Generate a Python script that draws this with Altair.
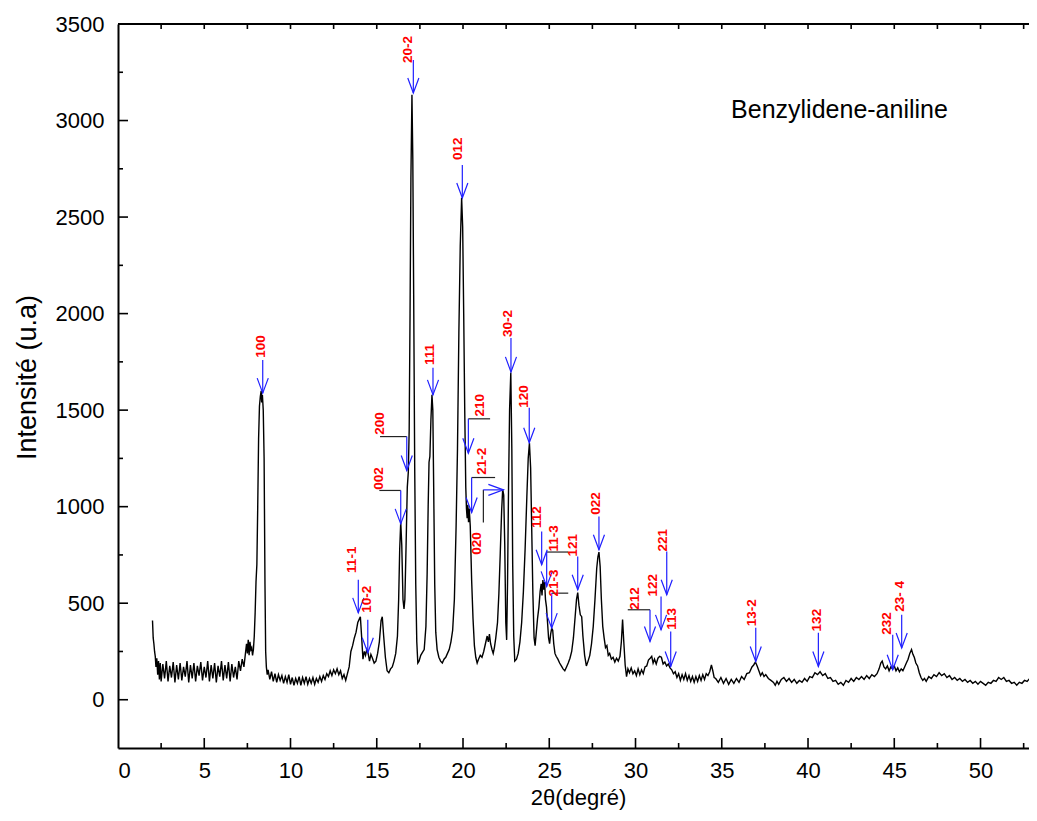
import altair as alt
import pandas as pd

# ---------------- diffraction pattern ----------------
two_theta = [
    2.00, 2.04, 2.08, 2.12, 2.16, 2.20, 2.25, 2.30, 2.35, 2.40, 2.45, 2.50, 2.6, 2.7, 2.8, 2.9,
    3.0, 3.1, 3.2, 3.3, 3.4, 3.5, 3.6, 3.7, 3.8, 3.9, 4.0, 4.1, 4.2, 4.3, 4.4, 4.5, 4.6, 4.7,
    4.8, 4.9, 5.0, 5.1, 5.2, 5.3, 5.4, 5.5, 5.6, 5.7, 5.8, 5.9, 6.0, 6.1, 6.2, 6.3, 6.4, 6.5,
    6.6, 6.7, 6.8, 6.9, 7.0, 7.1, 7.2, 7.3, 7.4, 7.45, 7.5, 7.55, 7.6, 7.65, 7.7, 7.75, 7.8,
    7.85, 7.9,
    7.95, 8.00, 8.05, 8.10, 8.15, 8.20, 8.25, 8.30, 8.33, 8.37, 8.42, 8.47, 8.52, 8.56, 8.60, 8.65,
    8.7, 8.8, 8.9, 9.0, 9.1, 9.2, 9.3, 9.4, 9.5, 9.6, 9.7, 9.8, 9.9, 10.0, 10.1, 10.2, 10.3,
    10.4, 10.5, 10.6, 10.7, 10.8, 10.9, 11.0, 11.1, 11.2, 11.3, 11.4, 11.5, 11.6, 11.7, 11.8,
    11.9, 12.0, 12.1, 12.2, 12.3, 12.4, 12.5, 12.6, 12.7, 12.8, 12.9, 13.0, 13.1, 13.2, 13.3,
    13.4, 13.5, 13.6, 13.7, 13.8, 13.9, 14.0, 14.05, 14.12, 14.2, 14.28, 14.35, 14.42, 14.5,
    14.58, 14.66, 14.75, 14.85, 14.95, 15.05, 15.15, 15.25, 15.32, 15.4, 15.5, 15.6, 15.7,
    15.8, 15.9, 16.0, 16.1, 16.2, 16.27, 16.33, 16.39, 16.45, 16.52, 16.58, 16.63, 16.7, 16.77,
    16.83, 16.88, 16.93, 16.98, 17.04, 17.09, 17.14, 17.2, 17.26, 17.32, 17.38, 17.45,
    17.55, 17.65, 17.75, 17.85, 17.92, 17.98, 18.03, 18.08, 18.14, 18.2, 18.25, 18.3, 18.36,
    18.42, 18.5, 18.6, 18.7, 18.8, 18.9, 19.0, 19.1, 19.2, 19.3, 19.4, 19.5, 19.6, 19.68,
    19.76, 19.84, 19.92, 19.98, 20.04, 20.1, 20.16, 20.2, 20.24, 20.28, 20.32, 20.36, 20.42,
    20.5, 20.58, 20.66, 20.74, 20.82, 20.9, 21.0, 21.1, 21.2, 21.3, 21.4, 21.47, 21.53, 21.6,
    21.68, 21.75, 21.82,
    21.9, 22.0, 22.08, 22.16, 22.24, 22.3, 22.36, 22.42, 22.48, 22.53, 22.58, 22.64, 22.7,
    22.77, 22.83, 22.88, 22.94, 23.0, 23.1, 23.2, 23.3, 23.4, 23.5, 23.6, 23.7, 23.78, 23.85,
    23.92, 23.98, 24.05, 24.12, 24.18, 24.25, 24.32, 24.4, 24.47, 24.53, 24.58, 24.63, 24.68,
    24.73, 24.78, 24.84, 24.9, 24.96, 25.02, 25.08, 25.14, 25.2, 25.26, 25.33,
    25.4, 25.5, 25.6, 25.7, 25.8, 25.9, 26.0, 26.1, 26.2, 26.3, 26.4, 26.5, 26.58, 26.65,
    26.72, 26.8, 26.88, 26.95, 27.05, 27.15, 27.25, 27.35, 27.45, 27.55, 27.65, 27.75, 27.82,
    27.88, 27.95, 28.02, 28.1, 28.18, 28.26, 28.34, 28.42, 28.5, 28.6, 28.7, 28.8, 28.9, 29.0,
    29.1, 29.18, 29.25, 29.32, 29.4, 29.48, 29.56, 29.65, 29.75, 29.85, 29.95,
    30.05, 30.15, 30.25, 30.35, 30.45, 30.55, 30.65, 30.75, 30.85, 30.94, 31.02, 31.1, 31.2,
    31.3, 31.4, 31.5, 31.6, 31.7, 31.8, 31.9, 32.0, 32.1, 32.2, 32.3, 32.4, 32.5, 32.6, 32.7,
    32.8, 32.9, 33.0, 33.1, 33.2, 33.3, 33.4, 33.5, 33.6, 33.7, 33.8, 33.9, 34.0, 34.1, 34.2,
    34.3, 34.4, 34.48, 34.56, 34.65,
    34.8, 34.95, 35.1, 35.25, 35.4, 35.55, 35.7, 35.85, 36.0, 36.15, 36.3, 36.45, 36.6, 36.75,
    36.85, 36.95, 37.05, 37.15, 37.25, 37.35, 37.45, 37.55, 37.7, 37.85, 38.0, 38.1, 38.2,
    38.3, 38.45, 38.6, 38.75, 38.9, 39.05, 39.2, 39.35, 39.5, 39.65, 39.8, 39.95, 40.1, 40.25,
    40.4, 40.55, 40.7, 40.85, 41.0, 41.15, 41.3, 41.45, 41.6, 41.75, 41.9, 42.05, 42.2, 42.35,
    42.5, 42.65, 42.8, 42.95, 43.1, 43.25, 43.4, 43.55, 43.7, 43.85, 44.0, 44.12, 44.22, 44.3,
    44.4, 44.5, 44.6, 44.7, 44.8, 44.9, 45.0, 45.1, 45.2, 45.3, 45.4, 45.5, 45.6, 45.7, 45.8,
    45.9, 46.0, 46.08, 46.16, 46.25, 46.35, 46.45, 46.55, 46.65, 46.75, 46.85, 47.0, 47.15,
    47.3, 47.45, 47.6, 47.75, 47.9, 48.05, 48.2, 48.35, 48.5, 48.65, 48.8, 48.95, 49.1, 49.25,
    49.4, 49.55, 49.7, 49.85, 50.0, 50.15, 50.3, 50.45, 50.6, 50.75, 50.9, 51.05, 51.2, 51.35,
    51.5, 51.65, 51.8, 51.95, 52.1, 52.25, 52.4, 52.55, 52.7, 52.85, 53.0, 53.15, 53.26,
]
intensity = [
    410, 320, 290, 250, 225, 170, 215, 130, 200, 105, 190, 95, 185, 110, 200, 95,
    175, 115, 195, 90, 180, 105, 190, 100, 170, 120, 200, 90, 180, 110, 190, 95, 175, 125,
    195, 100, 170, 115, 200, 95, 180, 110, 190, 90, 175, 120, 200, 100, 180, 110, 195, 95,
    185, 115, 170, 105, 200, 150, 210, 170, 250, 290, 240, 310, 230, 300, 260, 270, 230,
    260, 330,
    450, 610, 700, 1000, 1350, 1520, 1570, 1600, 1540, 1580, 1500, 1250, 600, 250, 170, 130,
    155, 105, 145, 95, 135, 90, 130, 100, 125, 85, 120, 90, 130, 80, 115, 75, 110,
    85, 120, 75, 115, 85, 120, 80, 110, 85, 115, 80, 110, 90, 120, 95,
    125, 105, 135, 120, 150, 125, 155, 135, 160, 130, 150, 110, 130, 100, 135,
    170, 250, 280, 320, 350, 400, 420, 430, 330, 210, 250, 230, 260, 240,
    200, 235, 215, 190, 200, 240, 300, 410, 430, 330, 220, 150, 140,
    160, 170, 200, 240, 330, 520, 780, 920, 800, 520, 470, 520, 800, 1100,
    1180, 1400, 2000, 2700, 3134, 2800, 2100, 1200, 600, 300, 190, 200,
    230, 245, 260, 380, 650, 1000, 1230, 1260, 1450, 1580, 1500, 1100, 600,
    350, 260, 220, 200, 190, 210, 220, 240, 260, 300, 360, 520, 900, 1300,
    1900, 2350, 2600, 2450, 2000, 1500, 1100, 990, 940, 1010, 920, 990, 900,
    620, 420, 280, 220, 190, 210, 230, 220, 250, 290, 330, 300, 340, 290,
    260, 240, 270,
    320, 400, 550, 760, 980, 1090, 1060, 800, 400, 310, 600, 1100, 1500,
    1695, 1300, 700, 330, 200, 210, 240, 300, 400, 560, 780, 1050, 1250, 1330,
    1200, 900, 550, 320, 280, 350, 420, 480, 560, 600, 540, 620, 570,
    610, 520, 480, 400, 320, 290, 340, 370, 360, 290, 240,
    225, 210, 190, 175, 160, 150, 170, 190, 215, 250, 320, 430, 520, 555,
    490, 440, 430, 330, 230, 175, 200, 230, 290, 380, 520, 680, 740,
    765, 690, 520, 380, 320, 270, 280, 230, 240, 210, 220, 195, 215, 200,
    225, 300, 415, 300, 180, 120, 160, 140, 165, 135, 150,
    125, 160, 130, 155, 135, 170, 175, 205, 215, 225, 190, 210, 185,
    215, 225, 220, 185, 195, 175, 185, 165, 155, 135, 145, 115, 135, 100, 130,
    105, 135, 100, 125, 95, 120, 90, 120, 95, 125, 100, 130, 105, 135, 125,
    145, 180, 150, 115, 110,
    90, 115, 85, 110, 80, 105, 85, 110, 90, 120, 105, 135, 140, 170,
    180, 195, 175, 150, 125, 140, 120, 130, 110, 100, 90, 75, 95,
    80, 105, 115, 95, 110, 90, 105, 85, 100, 90, 110, 95, 120, 115,
    140, 130, 145, 125, 135, 110, 115, 95, 100, 80, 90, 75, 100, 90,
    110, 95, 115, 105, 120, 105, 125, 110, 130, 120, 135, 160, 190, 200,
    170, 160, 175, 150, 170, 160, 175, 150, 165, 145, 160, 150, 170, 190, 210,
    240, 260, 235, 220, 190, 175, 140, 115, 100, 110, 95, 120, 110,
    130, 120, 140, 125, 135, 115, 125, 105, 115, 100, 110, 95, 105, 90,
    100, 85, 95, 80, 95, 85, 75, 90, 85, 100, 95, 115, 105, 115,
    95, 100, 85, 90, 75, 90, 85, 100, 95, 110, 85, 95, 78,
]

# ---------------- axis ticks ----------------
x_major = [0, 5, 10, 15, 20, 25, 30, 35, 40, 45, 50]
x_minor = [2.5, 7.5, 12.5, 17.5, 22.5, 27.5, 32.5, 37.5, 42.5, 47.5, 52.5]
y_major = [0, 500, 1000, 1500, 2000, 2500, 3000, 3500]
y_minor = [250, 750, 1250, 1750, 2250, 2750, 3250]

# ---------------- Miller-index annotations ----------------
ann_text = ["100", "20-2", "012", "111", "30-2", "120", "200", "002", "210", "21-2", "020",
            "11-1", "10-2", "112", "11-3", "21-3", "121", "022", "212", "122", "221", "113",
            "13-2", "132", "232", "23- 4"]
label_x = [8.29, 16.83, 19.71, 18.09, 22.63, 23.55, 15.19, 15.15, 20.99, 21.08, 20.79,
           13.54, 14.42, 24.27, 25.28, 25.28, 26.39, 27.71, 29.97, 31.03, 31.61, 32.10,
           36.73, 40.50, 44.56, 45.33]
label_y = [1771, 3298, 2796, 1734, 1879, 1512, 1372, 1087, 1467, 1165, 751,
           657, 450, 890, 768, 535, 742, 958, 466, 535, 768, 362,
           380, 354, 337, 456]

# downward arrows: position, start, tip
arrow_x = [8.39, 17.12, 19.96, 18.26, 22.78, 23.84, 16.74, 16.39, 20.31, 20.50,
           13.93, 14.48, 24.56, 24.85, 25.14, 26.65, 27.88, 30.84, 31.48, 31.81, 32.04,
           36.97, 40.60, 44.91, 45.43]
arrow_top = [1760, 3314, 2770, 1719, 1874, 1512, 1363, 1084, 1455, 1151,
             621, 414, 871, 765, 552, 742, 949, 466, 535, 768, 354,
             373, 347, 337, 440]
arrow_tip = [1588, 3143, 2599, 1579, 1698, 1331, 1187, 911, 1277, 970,
             450, 243, 699, 587, 371, 570, 777, 302, 362, 544, 172,
             198, 172, 155, 268]

# black leader brackets
bracket_x1 = [15.19, 15.15, 20.31, 20.50, 24.85, 25.14, 29.55]
bracket_x2 = [16.74, 16.39, 21.57, 21.86, 26.10, 26.10, 30.84]
bracket_y = [1363, 1084, 1455, 1151, 765, 552, 466]

# the "020" leader: vertical black part, then blue arrow to the right
lead020_x = [21.18]
lead020_y1 = [918]
lead020_y2 = [1087]
lead020_tip_x = [22.34]

title_text = ["Benzylidene-aniline"]
title_x = [35.54]
title_y = [3055]

# ---------------- build ----------------
W, H = 911, 724
BLUE = "#1f1fff"
RED = "#ff0000"
FONT = "Liberation Sans"

xs = alt.Scale(domain=[0, 52.81], nice=False, zero=False)
ys = alt.Scale(domain=[-250, 3500], nice=False, zero=False)

x_axis = alt.Axis(values=x_major, title="2θ(degré)", tickSize=0, labelPadding=12, format="d",
                  labelFontSize=22, titleFontSize=22, titleX=460, titleY=49,
                  titleBaseline="middle", titleAlign="center", domainWidth=2)
y_axis = alt.Axis(values=y_major, title="Intensité (u.a)", tickSize=0, labelPadding=14,
                  format="d", labelFontSize=22, titleFontSize=27, titleX=-91, titleY=353,
                  titleAngle=270, titleBaseline="middle", titleAlign="center",
                  domainWidth=2)


def xq(field):
    return alt.X(field, scale=xs, axis=x_axis, title="2θ(degré)")


def yq(field):
    return alt.Y(field, scale=ys, axis=y_axis, title="Intensité (u.a)")


curve_df = pd.DataFrame({"t": two_theta, "i": intensity})
curve = alt.Chart(curve_df).mark_line(color="black", strokeWidth=1.4, clip=True).encode(
    x=xq("t:Q"), y=yq("i:Q"))

xmaj = pd.DataFrame({"v": x_major})
xmin = pd.DataFrame({"v": x_minor})
ymaj = pd.DataFrame({"v": y_major})
ymin = pd.DataFrame({"v": y_minor})

tick_style = dict(color="black", strokeWidth=1.6, clip=True)
ticks = [
    alt.Chart(xmaj).mark_rule(**tick_style).encode(x=xq("v:Q"), y=alt.value(H), y2=alt.value(H - 10)),
    alt.Chart(xmin).mark_rule(**tick_style).encode(x=xq("v:Q"), y=alt.value(H), y2=alt.value(H - 5)),
    alt.Chart(xmaj).mark_rule(**tick_style).encode(x=xq("v:Q"), y=alt.value(0), y2=alt.value(5)),
    alt.Chart(xmin).mark_rule(**tick_style).encode(x=xq("v:Q"), y=alt.value(0), y2=alt.value(5)),
    alt.Chart(ymaj).mark_rule(**tick_style).encode(y=yq("v:Q"), x=alt.value(0), x2=alt.value(10)),
    alt.Chart(ymin).mark_rule(**tick_style).encode(y=yq("v:Q"), x=alt.value(0), x2=alt.value(5)),
]
top_border = alt.Chart(pd.DataFrame({"a": [0]})).mark_rule(color="black", strokeWidth=2).encode(
    x=alt.value(0), x2=alt.value(W), y=alt.value(0))

labels_df = pd.DataFrame({"text": ann_text, "x": label_x, "y": label_y})
labels = alt.Chart(labels_df).mark_text(
    angle=270, align="left", baseline="middle", color=RED, font=FONT,
    fontWeight="bold", fontSize=13.5).encode(x=xq("x:Q"), y=yq("y:Q"), text="text:N")

arrows_df = pd.DataFrame({"x": arrow_x, "y": arrow_top, "y2": arrow_tip})
arrow_lines = alt.Chart(arrows_df).mark_rule(color=BLUE, strokeWidth=1.2).encode(
    x=xq("x:Q"), y=yq("y:Q"), y2="y2:Q")
arrow_heads = alt.Chart(arrows_df).mark_point(
    shape="M-0.37,-1L0,0L0.37,-1", size=900, filled=False, color=BLUE, strokeWidth=1.2,
    opacity=1).encode(x=xq("x:Q"), y=yq("y2:Q"))

br_df = pd.DataFrame({"x": bracket_x1, "x2": bracket_x2, "y": bracket_y})
brackets = alt.Chart(br_df).mark_rule(color="#222222", strokeWidth=1.2).encode(
    x=xq("x:Q"), x2="x2:Q", y=yq("y:Q"))

l020 = pd.DataFrame({"x": lead020_x, "y": lead020_y1, "y2": lead020_y2, "tx": lead020_tip_x})
l020_v = alt.Chart(l020).mark_rule(color="#222222", strokeWidth=1.2).encode(
    x=xq("x:Q"), y=yq("y:Q"), y2="y2:Q")
l020_h = alt.Chart(l020).mark_rule(color=BLUE, strokeWidth=1.2).encode(
    x=xq("x:Q"), x2="tx:Q", y=yq("y2:Q"))
l020_head = alt.Chart(l020).mark_point(
    shape="M-1,-0.37L0,0L-1,0.37", size=900, filled=False, color=BLUE, strokeWidth=1.2,
    opacity=1).encode(x=xq("tx:Q"), y=yq("y2:Q"))

title_df = pd.DataFrame({"text": title_text, "x": title_x, "y": title_y})
title = alt.Chart(title_df).mark_text(
    align="left", baseline="middle", color="black", font=FONT, fontSize=25).encode(
    x=xq("x:Q"), y=yq("y:Q"), text="text:N")

chart = alt.layer(
    curve, *ticks, top_border, brackets, l020_v, arrow_lines, arrow_heads,
    l020_h, l020_head, labels, title
).properties(
    width=W, height=H,
    padding={"left": 110, "top": 16, "right": 0, "bottom": 65},
    autosize=alt.AutoSizeParams(type="none"),
).configure_view(stroke=None).configure_axis(
    grid=False, labelFont=FONT, titleFont=FONT, labelColor="black", titleColor="black",
    domainColor="black", titleFontWeight="normal"
)

chart.save("out.html", embed_options={"renderer": "svg", "actions": False})
